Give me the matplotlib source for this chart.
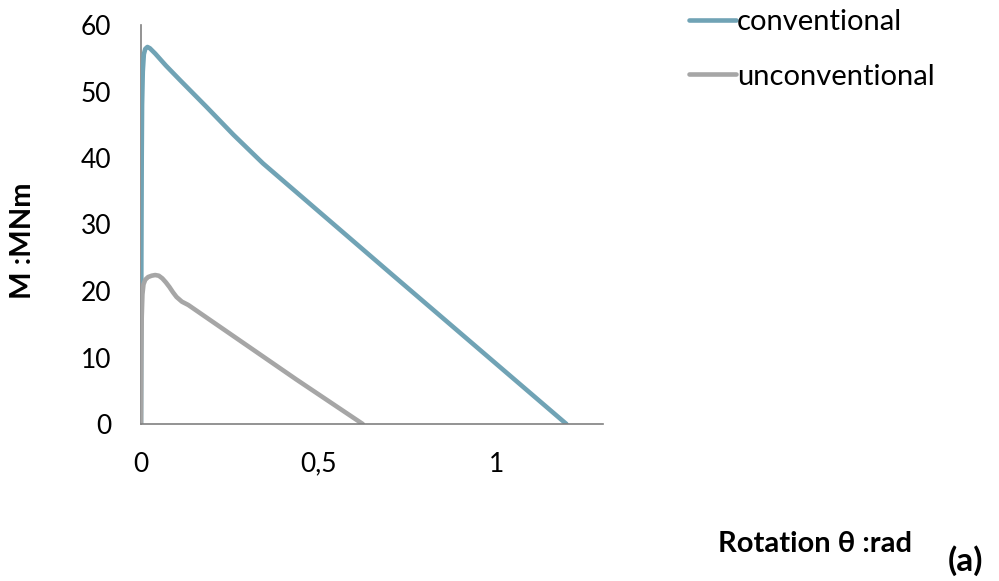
import matplotlib
matplotlib.use("Agg")
import matplotlib.pyplot as plt
import matplotlib.ticker as ticker

plt.rcParams["font.family"] = ["Lato", "DejaVu Sans"]

# conventional section
conv_x = [0, 0.001, 0.002, 0.003, 0.005, 0.008, 0.012, 0.018, 0.025, 0.04, 0.07,
          0.11, 0.184, 0.26, 0.343, 0.708, 1.197]
conv_y = [0, 25, 40, 48, 53, 55.6, 56.4, 56.7, 56.5, 55.7, 53.9,
          51.7, 47.7, 43.5, 39.2, 22.4, 0]

# unconventional section
unconv_x = [0, 0.001, 0.002, 0.004, 0.007, 0.012, 0.02, 0.03, 0.04, 0.05, 0.06,
            0.07, 0.08, 0.09, 0.1, 0.115, 0.133, 0.437, 0.624]
unconv_y = [0, 10, 16, 19.5, 21, 21.7, 22.1, 22.3, 22.4, 22.3, 21.9,
            21.3, 20.6, 19.8, 19.1, 18.4, 17.9, 6.7, 0]

BLUE = "#70a3b5"
GREY = "#a6a6a6"

fig = plt.figure(figsize=(9.99, 5.81), dpi=100)
ax = fig.add_axes([141 / 999, 157 / 581, 462 / 999, 399 / 581])

ax.plot(conv_x, conv_y, color=BLUE, lw=3.3, label="conventional", solid_capstyle="round")
ax.plot(unconv_x, unconv_y, color=GREY, lw=3.3, label="unconventional", solid_capstyle="round")

ax.set_xlim(0, 1.3)
ax.set_ylim(0, 60)
ax.set_xticks([0, 0.5, 1])
ax.set_yticks(range(0, 61, 10))
ax.xaxis.set_major_formatter(ticker.FuncFormatter(lambda v, _: f"{v:g}".replace(".", ",")))

for side in ["top", "right"]:
    ax.spines[side].set_visible(False)
for side in ["left", "bottom"]:
    ax.spines[side].set_color("#808080")
    ax.spines[side].set_linewidth(1.2)
ax.spines["left"].set_zorder(0)

ax.tick_params(axis="both", length=0, labelsize=19)
ax.tick_params(axis="x", pad=20)
ax.tick_params(axis="y", pad=21.5)

fig.text(23 / 999, 1 - 241 / 581, "M :MNm", rotation=90, fontsize=21,
         fontweight="bold", ha="center", va="center")
fig.text(718 / 999, 1 - 552 / 581, "Rotation θ :rad", fontsize=21,
         fontweight="bold", ha="left", va="baseline")
fig.text(948 / 999, 1 - 571 / 581, "(a)", fontsize=24,
         fontweight="bold", ha="left", va="baseline")

fig.legend(loc="upper left", bbox_to_anchor=(689 / 999, 1 - 9 / 581), frameon=False,
           fontsize=21, handlelength=1.6, handletextpad=0.05, labelspacing=0.98,
           borderaxespad=0, borderpad=0)

fig.savefig("out.png", dpi=100)
